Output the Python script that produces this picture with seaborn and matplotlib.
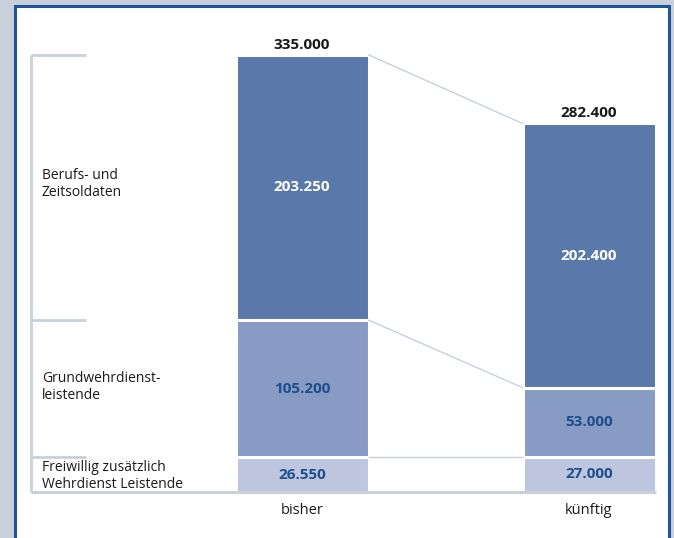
import matplotlib
matplotlib.use("Agg")
import matplotlib.pyplot as plt
import seaborn as sns
import pandas as pd
from matplotlib.patches import Rectangle

# ---- data ----
periods = ["bisher", "künftig"]
segments = ["Freiwillig zusätzlich\nWehrdienst Leistende", "Grundwehrdienst-\nleistende", "Berufs- und\nZeitsoldaten"]
freiwillig = [26550, 27000]
grundwehr = [105200, 53000]
berufs = [203250, 202400]
totals = [335000, 282400]

colors = ["#bec6df", "#879bc4", "#5a78aa"]
value_colors = ["#1f4e8c", "#1f4e8c", "white"]

sns.set_theme(style="white")
plt.rcParams["font.family"] = ["Open Sans", "DejaVu Sans"]

W, H, DPI = 674, 538, 100
fig = plt.figure(figsize=(W / DPI, H / DPI), dpi=DPI)
fig.patch.set_facecolor("#c8d0da")

# white panel with dark blue border
panel = Rectangle((15 / W, -0.05), (669 - 15) / W, (H - 6) / H + 0.05,
                  transform=fig.transFigure, facecolor="white",
                  edgecolor="#1d5597", linewidth=2.2, zorder=-5)
fig.patches.append(panel)

ax = fig.add_axes([0, 0, 1, 1])
ax.set_zorder(3)
ax.set_facecolor("none")
ax.patch.set_alpha(0)
ax.axis("off")

# pixel mapping: x=0 -> 302px, x=1 -> 589px; y=0 -> 492px from top
px_per_unit = 287.0
px_per_val = 1.305 / 1000
x_left = -302 / px_per_unit
x_right = 1 + (W - 589) / px_per_unit
y_bottom = -(H - 492) / px_per_val
y_top = 492 / px_per_val

cum1 = freiwillig
cum2 = [a + b for a, b in zip(freiwillig, grundwehr)]
cum3 = [a + b + c for a, b, c in zip(freiwillig, grundwehr, berufs)]

bar_w = 133 / px_per_unit
layers = [(cum3, colors[2]), (cum2, colors[1]), (cum1, colors[0])]
for vals, col in layers:
    df = pd.DataFrame({"period": periods, "value": vals})
    sns.barplot(data=df, x="period", y="value", color=col, width=bar_w,
                edgecolor="white", linewidth=2.2, saturation=1, ax=ax)
ax.set_xlim(x_left, x_right)
ax.set_ylim(y_bottom, y_top)
ax.set_xlabel("")
ax.set_ylabel("")
ax.axis("off")

half = bar_w / 2
line_col = "#c8d0da"
# connecting lines
for lo, hi in [(cum3[0], cum3[1]), (cum2[0], cum2[1]), (cum1[0], cum1[0])]:
    ax.plot([0 + half, 1 - half], [lo, hi], color=line_col, lw=1.0, zorder=1)

# baseline
xb0 = x_left + 31 / px_per_unit
ax.plot([xb0, 1 + half], [0, 0], color=line_col, lw=2.2, zorder=5, solid_capstyle="butt")

# bracket on the left
xk1 = x_left + 86 / px_per_unit
ax.plot([xb0, xb0], [0, cum3[0]], color=line_col, lw=2.0, zorder=5, solid_capstyle="butt")
for yv in [cum3[0], cum2[0], cum1[0]]:
    ax.plot([xb0, xk1], [yv, yv], color=line_col, lw=2.0, zorder=5, solid_capstyle="butt")

# segment labels on the left
xt = x_left + 42 / px_per_unit
label_y_px = [476, 387, 184]
for lab, ypx in zip(segments, label_y_px):
    ax.text(xt, (492 - ypx) / px_per_val, lab, ha="left", va="center",
            fontsize=10, color="#1a1a1a", linespacing=1.1)

# value labels inside bars
seg_vals = [freiwillig, grundwehr, berufs]
seg_bottoms = [[0, 0], cum1, cum2]
for i in range(3):
    for j in range(2):
        v = seg_vals[i][j]
        yc = seg_bottoms[i][j] + v / 2
        txt = f"{v:,}".replace(",", ".")
        ax.text(j, yc, txt, ha="center", va="center", fontsize=11,
                fontweight="bold", color=value_colors[i], zorder=6)

# totals above bars
for j in range(2):
    ax.text(j, cum3[j] + 2300, f"{totals[j]:,}".replace(",", "."), ha="center",
            va="bottom", fontsize=11, fontweight="bold", color="#1a1a1a")

# period labels
for j, p in enumerate(periods):
    ax.text(j, -(510 - 492) / px_per_val, p, ha="center", va="center",
            fontsize=10.5, color="#1a1a1a")

fig.savefig("out.png", dpi=DPI, facecolor=fig.get_facecolor())
